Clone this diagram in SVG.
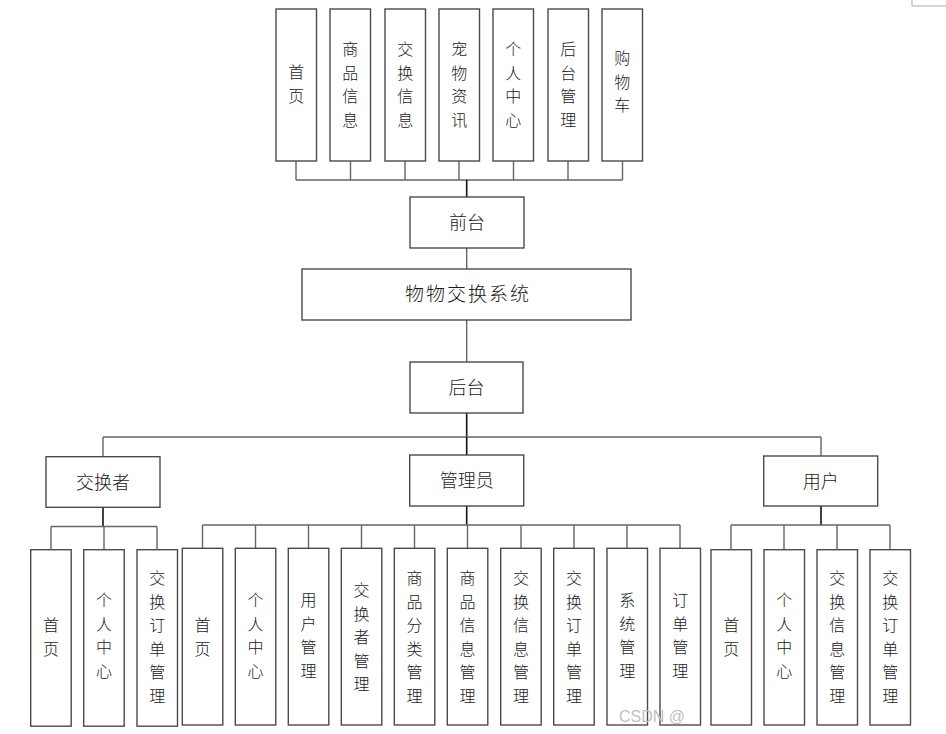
<svg xmlns="http://www.w3.org/2000/svg" width="946" height="734" viewBox="0 0 946 734">
<style>
  .box { fill: #ffffff; stroke: #4a4a4a; stroke-width: 1.4; }
  .t { font-family: "Noto Sans CJK SC", "DejaVu Sans", sans-serif; font-size: 18px; fill: #1a1a1a; text-anchor: middle; font-weight: 300; }
  .v { font-family: "Noto Sans CJK SC", "DejaVu Sans", sans-serif; font-size: 16px; fill: #1a1a1a; text-anchor: middle; font-weight: 300; }
  .ln { fill: none; stroke: #666666; stroke-width: 1.4; }
  .lk { fill: none; stroke: #111111; stroke-width: 1.6; }
  .wm { font-family: "Liberation Sans", "DejaVu Sans", sans-serif; font-size: 16px; fill: #c0c0c0; }
</style>
<rect width="946" height="734" fill="#ffffff"/>
<path d="M912 0 V6 H946" fill="none" stroke="#aaaaaa" stroke-width="1"/>

<g id="connectors">
  <path class="ln" d="M296 161 V180 M350.5 161 V180 M405 161 V180 M459 161 V180 M513.5 161 V180 M568 161 V180 M622.5 161 V180 M296 180 H622.5"/>
  <path class="lk" d="M466.7 180 V197"/>
  <path class="ln" d="M466.7 248 V269 M466.7 320 V362"/>
  <path class="lk" d="M466.7 413 V437"/>
  <path class="ln" d="M103 437 H821 M103 437 V456.7 M821 437 V456"/>
  <path class="lk" d="M466.7 437 V455"/>
  <path class="lk" d="M103 507.3 V526.5"/>
  <path class="ln" d="M51 526.5 H157 M51 526.5 V549.7 M104 526.5 V549.7 M157 526.5 V549.7"/>
  <path class="lk" d="M466.7 506 V525"/>
  <path class="ln" d="M202.5 525 H680 M202.5 525 V548.3 M255.5 525 V548.3 M308.5 525 V548.3 M361.5 525 V548.3 M414.5 525 V548.3 M467.5 525 V548.3 M521 525 V548.3 M574 525 V548.3 M627 525 V548.3 M680 525 V548.3"/>
  <path class="lk" d="M821 506 V525"/>
  <path class="ln" d="M731 525 H890 M731 525 V549.7 M784 525 V549.7 M837 525 V549.7 M890 525 V549.7"/>
</g>

<g id="f-home"><rect class="box" x="276" y="9" width="40.5" height="152"/>
  <text class="v"><tspan x="296.2" y="78">首</tspan><tspan x="296.2" y="101.5">页</tspan></text></g>
<g id="f-goods"><rect class="box" x="330" y="9" width="40.5" height="152"/>
  <text class="v"><tspan x="350.2" y="55">商</tspan><tspan x="350.2" y="78.5">品</tspan><tspan x="350.2" y="102">信</tspan><tspan x="350.2" y="125.5">息</tspan></text></g>
<g id="f-exchange"><rect class="box" x="385" y="9" width="40.5" height="152"/>
  <text class="v"><tspan x="405.2" y="55">交</tspan><tspan x="405.2" y="78.5">换</tspan><tspan x="405.2" y="102">信</tspan><tspan x="405.2" y="125.5">息</tspan></text></g>
<g id="f-news"><rect class="box" x="439" y="9" width="40.5" height="152"/>
  <text class="v"><tspan x="459.2" y="55">宠</tspan><tspan x="459.2" y="78.5">物</tspan><tspan x="459.2" y="102">资</tspan><tspan x="459.2" y="125.5">讯</tspan></text></g>
<g id="f-center"><rect class="box" x="493" y="9" width="40.5" height="152"/>
  <text class="v"><tspan x="513.2" y="55">个</tspan><tspan x="513.2" y="78.5">人</tspan><tspan x="513.2" y="102">中</tspan><tspan x="513.2" y="125.5">心</tspan></text></g>
<g id="f-admin"><rect class="box" x="548" y="9" width="40.5" height="152"/>
  <text class="v"><tspan x="568.2" y="55">后</tspan><tspan x="568.2" y="78.5">台</tspan><tspan x="568.2" y="102">管</tspan><tspan x="568.2" y="125.5">理</tspan></text></g>
<g id="f-cart"><rect class="box" x="602" y="9" width="40.5" height="152"/>
  <text class="v"><tspan x="622.2" y="64">购</tspan><tspan x="622.2" y="87.5">物</tspan><tspan x="622.2" y="111">车</tspan></text></g>

<g id="frontend"><rect class="box" x="410" y="197" width="114" height="51"/>
  <text class="t" x="467" y="229">前台</text></g>
<g id="system"><rect class="box" x="302" y="269" width="329" height="51"/>
  <text class="t" x="468" y="301" style="font-size:19px; letter-spacing:2px">物物交换系统</text></g>
<g id="backend"><rect class="box" x="410" y="362" width="113" height="51"/>
  <text class="t" x="466.5" y="394">后台</text></g>

<g id="exchanger"><rect class="box" x="46" y="456.7" width="114" height="50.6"/>
  <text class="t" x="103" y="488.5">交换者</text></g>
<g id="manager"><rect class="box" x="409.7" y="455" width="114" height="51"/>
  <text class="t" x="466.7" y="487">管理员</text></g>
<g id="user"><rect class="box" x="763.7" y="456" width="114" height="50"/>
  <text class="t" x="820.7" y="487.5">用户</text></g>

<g id="e-home"><rect class="box" x="30.7" y="549.7" width="40.5" height="176.5"/>
  <text class="v"><tspan x="51" y="631">首</tspan><tspan x="51" y="654.5">页</tspan></text></g>
<g id="e-center"><rect class="box" x="83.7" y="549.7" width="40.5" height="176.5"/>
  <text class="v"><tspan x="104" y="606">个</tspan><tspan x="104" y="629.5">人</tspan><tspan x="104" y="653">中</tspan><tspan x="104" y="676.5">心</tspan></text></g>
<g id="e-order"><rect class="box" x="137" y="549.7" width="40.5" height="176.5"/>
  <text class="v"><tspan x="157.2" y="584">交</tspan><tspan x="157.2" y="607.5">换</tspan><tspan x="157.2" y="631">订</tspan><tspan x="157.2" y="654.5">单</tspan><tspan x="157.2" y="678">管</tspan><tspan x="157.2" y="701.5">理</tspan></text></g>

<g id="m-home"><rect class="box" x="182.3" y="548.3" width="40.5" height="176.7"/>
  <text class="v"><tspan x="202.5" y="631">首</tspan><tspan x="202.5" y="654.5">页</tspan></text></g>
<g id="m-center"><rect class="box" x="235.3" y="548.3" width="40.5" height="176.7"/>
  <text class="v"><tspan x="255.5" y="606">个</tspan><tspan x="255.5" y="629.5">人</tspan><tspan x="255.5" y="653">中</tspan><tspan x="255.5" y="676.5">心</tspan></text></g>
<g id="m-user"><rect class="box" x="288.3" y="548.3" width="40.5" height="176.7"/>
  <text class="v"><tspan x="308.5" y="606">用</tspan><tspan x="308.5" y="629.5">户</tspan><tspan x="308.5" y="653">管</tspan><tspan x="308.5" y="676.5">理</tspan></text></g>
<g id="m-exchanger"><rect class="box" x="341.3" y="548.3" width="40.5" height="176.7"/>
  <text class="v"><tspan x="361.5" y="596">交</tspan><tspan x="361.5" y="619.5">换</tspan><tspan x="361.5" y="643">者</tspan><tspan x="361.5" y="666.5">管</tspan><tspan x="361.5" y="690">理</tspan></text></g>
<g id="m-category"><rect class="box" x="394.3" y="548.3" width="40.5" height="176.7"/>
  <text class="v"><tspan x="414.5" y="584">商</tspan><tspan x="414.5" y="607.5">品</tspan><tspan x="414.5" y="631">分</tspan><tspan x="414.5" y="654.5">类</tspan><tspan x="414.5" y="678">管</tspan><tspan x="414.5" y="701.5">理</tspan></text></g>
<g id="m-goods"><rect class="box" x="447.3" y="548.3" width="40.5" height="176.7"/>
  <text class="v"><tspan x="467.5" y="584">商</tspan><tspan x="467.5" y="607.5">品</tspan><tspan x="467.5" y="631">信</tspan><tspan x="467.5" y="654.5">息</tspan><tspan x="467.5" y="678">管</tspan><tspan x="467.5" y="701.5">理</tspan></text></g>
<g id="m-exinfo"><rect class="box" x="500.7" y="548.3" width="40.5" height="176.7"/>
  <text class="v"><tspan x="521" y="584">交</tspan><tspan x="521" y="607.5">换</tspan><tspan x="521" y="631">信</tspan><tspan x="521" y="654.5">息</tspan><tspan x="521" y="678">管</tspan><tspan x="521" y="701.5">理</tspan></text></g>
<g id="m-exorder"><rect class="box" x="553.7" y="548.3" width="40.5" height="176.7"/>
  <text class="v"><tspan x="574" y="584">交</tspan><tspan x="574" y="607.5">换</tspan><tspan x="574" y="631">订</tspan><tspan x="574" y="654.5">单</tspan><tspan x="574" y="678">管</tspan><tspan x="574" y="701.5">理</tspan></text></g>
<g id="m-system"><rect class="box" x="607" y="548.3" width="40.5" height="176.7"/>
  <text class="v"><tspan x="627.2" y="606">系</tspan><tspan x="627.2" y="629.5">统</tspan><tspan x="627.2" y="653">管</tspan><tspan x="627.2" y="676.5">理</tspan></text></g>
<g id="m-order"><rect class="box" x="660" y="548.3" width="40.5" height="176.7"/>
  <text class="v"><tspan x="680.2" y="606">订</tspan><tspan x="680.2" y="629.5">单</tspan><tspan x="680.2" y="653">管</tspan><tspan x="680.2" y="676.5">理</tspan></text></g>

<g id="u-home"><rect class="box" x="711" y="549.7" width="40.5" height="175.3"/>
  <text class="v"><tspan x="731.2" y="631">首</tspan><tspan x="731.2" y="654.5">页</tspan></text></g>
<g id="u-center"><rect class="box" x="764" y="549.7" width="40.5" height="175.3"/>
  <text class="v"><tspan x="784.2" y="606">个</tspan><tspan x="784.2" y="629.5">人</tspan><tspan x="784.2" y="653">中</tspan><tspan x="784.2" y="676.5">心</tspan></text></g>
<g id="u-exinfo"><rect class="box" x="817" y="549.7" width="40.5" height="175.3"/>
  <text class="v"><tspan x="837.2" y="584">交</tspan><tspan x="837.2" y="607.5">换</tspan><tspan x="837.2" y="631">信</tspan><tspan x="837.2" y="654.5">息</tspan><tspan x="837.2" y="678">管</tspan><tspan x="837.2" y="701.5">理</tspan></text></g>
<g id="u-exorder"><rect class="box" x="870" y="549.7" width="40.5" height="175.3"/>
  <text class="v"><tspan x="890.2" y="584">交</tspan><tspan x="890.2" y="607.5">换</tspan><tspan x="890.2" y="631">订</tspan><tspan x="890.2" y="654.5">单</tspan><tspan x="890.2" y="678">管</tspan><tspan x="890.2" y="701.5">理</tspan></text></g>

<text class="wm" x="619" y="722">CSDN @</text>
</svg>
